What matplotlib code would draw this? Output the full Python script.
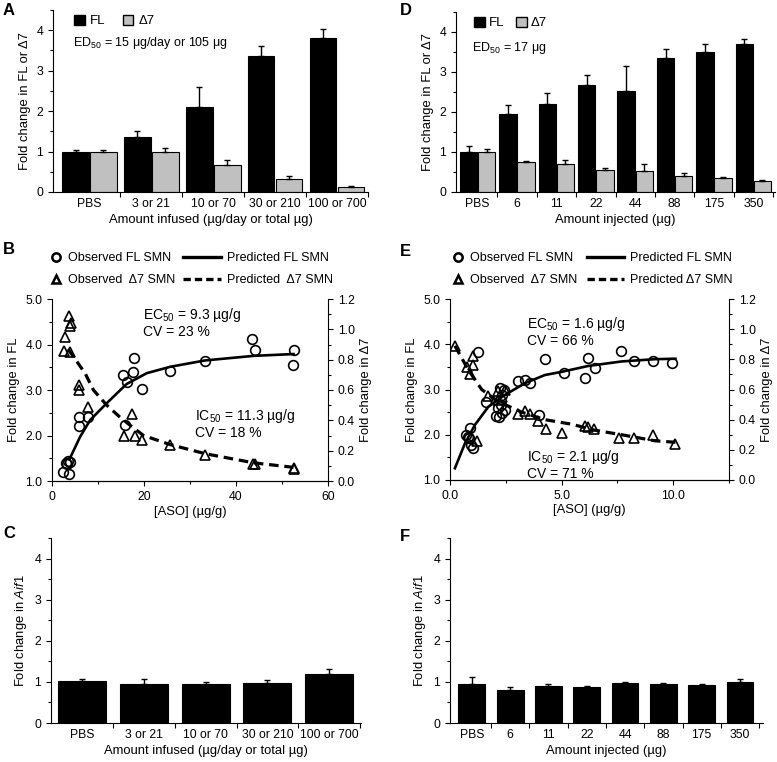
import numpy as np
import matplotlib
matplotlib.use("Agg")
import matplotlib.pyplot as plt
from matplotlib.lines import Line2D
from matplotlib.patches import Patch
from matplotlib.ticker import MultipleLocator

plt.rcParams["font.family"] = ["Liberation Sans", "DejaVu Sans"]
plt.rcParams["mathtext.fontset"] = "custom"
plt.rcParams["mathtext.rm"] = "Liberation Sans"
plt.rcParams["mathtext.it"] = "Liberation Sans:italic"
plt.rcParams["mathtext.bf"] = "Liberation Sans:bold"

GREY = "#c0c0c0"
TICK_FS = 8.8
LABEL_FS = 9.4

# ---- A / C : infusion ----
INF_LABELS = ["PBS", "3 or 21", "10 or 70", "30 or 210", "100 or 700"]
A_FL = [1.00, 1.37, 2.10, 3.37, 3.80]
A_FL_ERR = [0.05, 0.13, 0.50, 0.25, 0.22]
A_D7 = [1.00, 1.00, 0.66, 0.31, 0.12]
A_D7_ERR = [0.05, 0.09, 0.13, 0.08, 0.04]
C_AIF1 = [1.01, 0.96, 0.94, 0.97, 1.20]
C_AIF1_ERR = [0.05, 0.10, 0.06, 0.08, 0.11]

# ---- D / F : injection ----
INJ_LABELS = ["PBS", "6", "11", "22", "44", "88", "175", "350"]
D_FL = [1.00, 1.96, 2.20, 2.67, 2.52, 3.34, 3.50, 3.71]
D_FL_ERR = [0.16, 0.21, 0.28, 0.26, 0.63, 0.24, 0.20, 0.12]
D_D7 = [1.01, 0.75, 0.70, 0.56, 0.53, 0.41, 0.34, 0.28]
D_D7_ERR = [0.06, 0.02, 0.10, 0.05, 0.17, 0.06, 0.03, 0.02]
F_AIF1 = [0.95, 0.80, 0.91, 0.87, 0.98, 0.94, 0.93, 1.00]
F_AIF1_ERR = [0.16, 0.07, 0.03, 0.03, 0.02, 0.04, 0.02, 0.06]

# ---- B : PK/PD, infusion ----
B_FL_X = [2.3, 3.8, 3.0, 3.5, 3.9, 3.2, 5.9, 5.9, 7.9, 15.5, 16.4, 17.5, 17.9,
          19.6, 15.9, 25.7, 33.3, 43.4, 44.1, 52.5, 52.3]
B_FL_Y = [1.20, 1.15, 1.40, 1.44, 1.42, 1.38, 2.41, 2.20, 2.41, 3.33, 3.18, 3.40,
          3.71, 3.02, 2.23, 3.42, 3.64, 4.12, 3.88, 3.88, 3.55]
B_D7_X = [3.8, 4.1, 4.0, 2.8, 2.6, 3.9, 5.9, 5.9, 7.9, 17.3, 15.6, 18.0, 19.5,
          25.7, 33.3, 43.6, 44.1, 52.5, 52.7]
B_D7_Y = [1.09, 1.04, 1.02, 0.95, 0.86, 0.85, 0.63, 0.60, 0.49, 0.44, 0.30, 0.30,
          0.27, 0.24, 0.17, 0.11, 0.11, 0.084, 0.08]
B_PRED_FL_X = [3.9, 6.1, 8.3, 11.9, 16.2, 20.6, 25.7, 33.3, 43.8, 52.5]
B_PRED_FL_Y = [1.50, 1.97, 2.34, 2.71, 3.13, 3.37, 3.51, 3.65, 3.75, 3.79]
B_PRED_D7_X = [3.5, 7.2, 9.0, 11.9, 14.8, 17.3, 19.9, 25.7, 33.3, 43.8, 52.5]
B_PRED_D7_Y = [0.87, 0.71, 0.60, 0.50, 0.42, 0.36, 0.30, 0.24, 0.18, 0.12, 0.09]

# ---- E : PK/PD, injection ----
E_FL_X = [1.24, 0.91, 0.73, 0.80, 0.85, 1.03, 0.96, 1.63, 2.05, 2.20, 2.35, 2.45,
          2.15, 2.30, 2.25, 2.33, 2.40, 3.03, 3.37, 3.57, 3.99, 4.27, 5.09, 6.19,
          6.07, 6.49, 7.64, 8.25, 9.10, 9.96]
E_FL_Y = [3.82, 2.14, 1.99, 1.95, 1.92, 1.70, 1.77, 2.73, 2.42, 2.40, 2.47, 2.55,
          2.60, 2.65, 3.03, 2.88, 2.98, 3.19, 3.21, 3.14, 2.44, 3.67, 3.37, 3.69,
          3.25, 3.47, 3.85, 3.62, 3.62, 3.59]
E_D7_X = [0.22, 0.75, 0.90, 1.04, 1.04, 1.19, 1.69, 2.16, 2.31, 2.46, 2.16, 3.03,
          3.36, 3.58, 3.96, 4.31, 5.03, 6.07, 6.19, 6.46, 7.58, 8.25, 9.10, 10.1]
E_D7_Y = [0.89, 0.75, 0.70, 0.76, 0.82, 0.26, 0.56, 0.59, 0.55, 0.60, 0.53, 0.44,
          0.46, 0.44, 0.39, 0.34, 0.31, 0.36, 0.35, 0.34, 0.28, 0.28, 0.30, 0.24]
E_PRED_FL_X = [0.22, 0.67, 1.12, 1.72, 2.46, 3.36, 4.25, 5.0, 6.19, 7.69, 9.18, 10.1]
E_PRED_FL_Y = [1.26, 1.81, 2.22, 2.62, 2.88, 3.14, 3.32, 3.39, 3.52, 3.62, 3.67, 3.68]
E_PRED_D7_X = [0.22, 0.82, 1.42, 2.16, 3.21, 4.25, 5.45, 6.49, 7.69, 9.18, 10.1]
E_PRED_D7_Y = [0.89, 0.73, 0.60, 0.52, 0.45, 0.40, 0.37, 0.33, 0.30, 0.26, 0.25]

W, H = 777.0, 762.0


def px_axes(fig, left, right, top, bottom):
    # axes rect from pixel edges of the reference
    return fig.add_axes([left / W, 1 - bottom / H, (right - left) / W, (bottom - top) / H])


def style(ax):
    ax.spines["top"].set_visible(False)
    ax.spines["right"].set_visible(False)
    ax.tick_params(direction="out", labelsize=TICK_FS, length=3.5, width=0.8)
    ax.tick_params(which="minor", direction="out", length=2, width=0.8)


def cat_axis(ax, labels, xlim, xlabel):
    n = len(labels)
    ax.set_xlim(*xlim)
    ax.set_xticks(np.arange(n) + 0.5, [""] * n)
    ax.set_xticks(np.arange(n), labels, minor=True)
    ax.tick_params(axis="x", which="minor", length=0, pad=4, labelsize=TICK_FS)
    ax.set_ylim(0, 4.5)
    ax.set_yticks([0, 1, 2, 3, 4])
    ax.yaxis.set_minor_locator(MultipleLocator(0.5))
    ax.set_xlabel(xlabel, fontsize=LABEL_FS, labelpad=3)


def up_err(ax, x, y, err):
    ax.errorbar(x, y, yerr=[np.zeros(len(err)), err], fmt="none", ecolor="black",
                elinewidth=1.0, capsize=2.5, capthick=1.0)


def grouped(ax, labels, fl, fl_err, d7, d7_err, width, off, xlim, xlabel):
    x = np.arange(len(labels))
    ax.bar(x - off, fl, width, color="black", edgecolor="black", lw=0.8)
    ax.bar(x + off, d7, width, color=GREY, edgecolor="black", lw=0.8)
    up_err(ax, x - off, fl, fl_err)
    up_err(ax, x + off, d7, d7_err)
    style(ax)
    cat_axis(ax, labels, xlim, xlabel)
    ax.set_ylabel("Fold change in FL or \u0394" + "7", fontsize=LABEL_FS)
    hd = [Patch(fc="black", ec="black"), Patch(fc=GREY, ec="black")]
    return hd


def single(ax, labels, vals, errs, width, xlim, xlabel):
    x = np.arange(len(labels))
    ax.bar(x, vals, width, color="black", edgecolor="black", lw=0.8)
    up_err(ax, x, vals, errs)
    style(ax)
    cat_axis(ax, labels, xlim, xlabel)
    ax.set_ylabel(r"Fold change in $\it{Aif1}$", fontsize=LABEL_FS)


def pkpd(ax, fl_x, fl_y, d7_x, d7_y, pfl_x, pfl_y, pd7_x, pd7_y, xlim, xmaj, xfmt):
    ax2 = ax.twinx()
    ax.plot(pfl_x, pfl_y, color="black", lw=1.9, zorder=3)
    ax.plot(fl_x, fl_y, "o", ms=7, mfc="none", mec="black", mew=1.2, zorder=4)
    ax2.plot(pd7_x, pd7_y, color="black", lw=2.3, dashes=(3.0, 1.8), zorder=3)
    ax2.plot(d7_x, d7_y, "^", ms=7, mfc="none", mec="black", mew=1.2, zorder=4)
    ax.set_xlim(*xlim)
    ax.set_ylim(1.0, 5.0)
    ax2.set_ylim(0, 1.2)
    ax.set_yticks([1, 2, 3, 4, 5])
    ax.yaxis.set_minor_locator(MultipleLocator(0.5))
    ax.yaxis.set_major_formatter("{x:.1f}")
    ax2.set_yticks([0, 0.2, 0.4, 0.6, 0.8, 1.0, 1.2])
    ax2.yaxis.set_minor_locator(MultipleLocator(0.1))
    ax2.yaxis.set_major_formatter("{x:.1f}")
    ax.xaxis.set_major_locator(MultipleLocator(xmaj))
    ax.xaxis.set_minor_locator(MultipleLocator(xmaj / 2))
    ax.xaxis.set_major_formatter(xfmt)
    for a in (ax, ax2):
        a.spines["top"].set_visible(False)
        a.tick_params(direction="out", labelsize=TICK_FS, length=3.5, width=0.8)
        a.tick_params(which="minor", direction="out", length=2, width=0.8)
    ax.spines["right"].set_visible(False)
    ax2.spines["left"].set_visible(False)
    ax.set_xlabel("[ASO] (\u00b5g/g)", fontsize=LABEL_FS, labelpad=2)
    ax.set_ylabel("Fold change in FL", fontsize=LABEL_FS)
    ax2.set_ylabel("Fold change in \u0394" + "7", fontsize=LABEL_FS)
    return ax2


def pkpd_legend(ax, mk_anchor, ln_anchor, pred_d7):
    mk = [Line2D([], [], ls="none", marker="o", ms=6, mfc="none", mec="black", mew=1.8),
          Line2D([], [], ls="none", marker="^", ms=6, mfc="none", mec="black", mew=1.8)]
    lg = ax.legend(mk, ["Observed FL SMN", "Observed  \u0394" + "7 SMN"], loc="lower left",
                   bbox_to_anchor=mk_anchor, frameon=False, fontsize=9, handlelength=0.8,
                   handletextpad=0.6, labelspacing=0.8, borderaxespad=0, borderpad=0)
    ax.add_artist(lg)
    ln = [Line2D([], [], color="black", lw=2.4),
          Line2D([], [], color="black", lw=2.4, dashes=(2.2, 1.2))]
    ax.legend(ln, ["Predicted FL SMN", pred_d7], loc="lower left",
              bbox_to_anchor=ln_anchor, frameon=False, fontsize=9, handlelength=3.0,
              handletextpad=0.5, labelspacing=0.8, borderaxespad=0, borderpad=0)


def main():
    fig = plt.figure(figsize=(W / 100, H / 100), dpi=100)

    # ---- A ----
    axA = px_axes(fig, 53, 368, 10, 192)
    hd = grouped(axA, INF_LABELS, A_FL, A_FL_ERR, A_D7, A_D7_ERR, 0.43, 0.226,
                 (-0.59, 4.5), "Amount infused (\u00b5g/day or total \u00b5g)")
    axA.legend(hd, ["FL", "\u0394" + "7"], ncol=2, frameon=False, loc="upper left",
               bbox_to_anchor=(0.03, 1.04), fontsize=9.5, handlelength=0.8,
               handleheight=0.8, handletextpad=0.4, columnspacing=1.3)
    axA.text(0.063, 0.82, r"ED$_{50}$ = 15 $\mathrm{\mu}$g/day or 105 $\mathrm{\mu}$g",
             transform=axA.transAxes, fontsize=9, va="center")

    # ---- D ----
    axD = px_axes(fig, 456, 775, 12, 192)
    hd = grouped(axD, INJ_LABELS, D_FL, D_FL_ERR, D_D7, D_D7_ERR, 0.44, 0.23,
                 (-0.55, 7.55), "Amount injected (\u00b5g)")
    axD.legend(hd, ["FL", "\u0394" + "7"], ncol=2, frameon=False, loc="upper left",
               bbox_to_anchor=(0.02, 1.04), fontsize=9.5, handlelength=0.8,
               handleheight=0.8, handletextpad=0.3, columnspacing=0.9)
    axD.text(0.05, 0.80, r"ED$_{50}$ = 17 $\mathrm{\mu}$g",
             transform=axD.transAxes, fontsize=9, va="center")

    # ---- B ----
    axB = px_axes(fig, 52, 328, 299, 481)
    pkpd(axB, B_FL_X, B_FL_Y, B_D7_X, B_D7_Y, B_PRED_FL_X, B_PRED_FL_Y,
         B_PRED_D7_X, B_PRED_D7_Y, (0, 60), 20, "{x:.0f}")
    pkpd_legend(axB, (-0.005, 1.072), (0.475, 1.072), "Predicted  \u0394" + "7 SMN")
    axB.text(19.8, 4.85, "EC$_{50}$ = 9.3 \u00b5g/g\nCV = 23 %", fontsize=10, va="top",
             linespacing=1.1)
    axB.text(31.0, 2.62, "IC$_{50}$ = 11.3 \u00b5g/g\nCV = 18 %", fontsize=10, va="top",
             linespacing=1.1)

    # ---- E ----
    axE = px_axes(fig, 450, 729, 299, 480)
    pkpd(axE, E_FL_X, E_FL_Y, E_D7_X, E_D7_Y, E_PRED_FL_X, E_PRED_FL_Y,
         E_PRED_D7_X, E_PRED_D7_Y, (0, 12.5), 5, "{x:.1f}")
    pkpd_legend(axE, (0.01, 1.072), (0.49, 1.072), "Predicted \u0394" + "7 SMN")
    axE.text(3.45, 4.65, "EC$_{50}$ = 1.6 \u00b5g/g\nCV = 66 %", fontsize=10, va="top",
             linespacing=1.1)
    axE.text(3.45, 1.7, "IC$_{50}$ = 2.1 \u00b5g/g\nCV = 71 %", fontsize=10, va="top",
             linespacing=1.1)

    # ---- C ----
    axC = px_axes(fig, 51, 361, 538, 723)
    single(axC, INF_LABELS, C_AIF1, C_AIF1_ERR, 0.78, (-0.51, 4.52),
           "Amount infused (\u00b5g/day or total \u00b5g)")

    # ---- F ----
    axF = px_axes(fig, 450, 763, 538, 723)
    single(axF, INJ_LABELS, F_AIF1, F_AIF1_ERR, 0.7, (-0.57, 7.6),
           "Amount injected (\u00b5g)")

    for lab, x, y in [("A", 3, 3), ("B", 3, 242), ("C", 3, 526),
                      ("D", 400, 3), ("E", 400, 244), ("F", 400, 529)]:
        fig.text(x / W, 1 - y / H, lab, fontsize=12, fontweight="bold", va="top")

    fig.savefig("out.png", dpi=100)
    plt.close(fig)


if __name__ == "__main__":
    main()
